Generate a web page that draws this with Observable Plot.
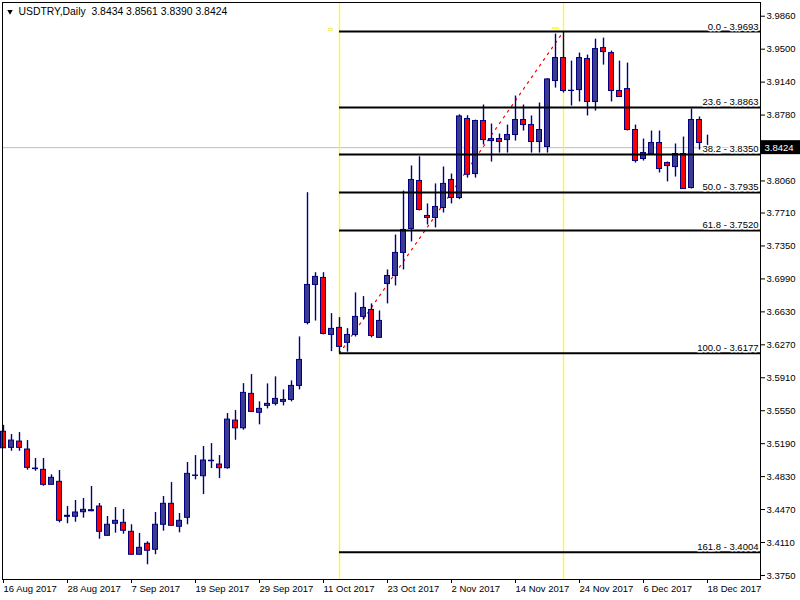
<!DOCTYPE html>
<html>
<head>
<meta charset="utf-8">
<script src="https://cdn.jsdelivr.net/npm/d3@7"></script>
<script src="https://cdn.jsdelivr.net/npm/@observablehq/plot@0.6"></script>
<style>
  html, body { margin: 0; padding: 0; background: #fff; }
  #chart svg { display: block; }
</style>
</head>
<body>
<div id="chart"></div>
<script>
// ---- data ----
const symbol = "USDTRY,Daily";
const opens  = [3.5320,3.5144,3.5213,3.5126,3.4918,3.4904,3.4740,3.4773,3.4391,3.4391,
                3.4441,3.4452,3.4503,3.4183,3.4315,3.4325,3.4227,3.3976,3.4096,3.4031,
                3.4304,3.4533,3.4282,3.4380,3.4838,3.4834,3.4998,3.4962,3.4922,3.5442,
                3.5358,3.5734,3.5527,3.5603,3.5625,3.5647,3.5668,3.5821,3.6509,3.6924,
                3.7001,3.6378,3.6455,3.6291,3.6378,3.6575,3.6651,3.6346,3.6935,3.7022,
                3.7274,3.7536,3.8060,3.7678,3.7656,3.7765,3.8071,3.7874,3.8737,3.8136,
                3.8715,3.8496,3.8518,3.8507,3.8562,3.8726,3.8671,3.8486,3.8431,3.9152,
                3.9403,3.9043,3.9053,3.9392,3.8923,3.9512,3.9457,3.9043,3.9064,3.8617,
                3.8300,3.8354,3.8475,3.8256,3.8212,3.8354,3.7983,3.8726,3.8434];
const highs  = [3.5390,3.5290,3.5311,3.5224,3.5028,3.5028,3.4850,3.4897,3.4503,3.4569,
                3.4591,3.4722,3.4536,3.4394,3.4492,3.4471,3.4304,3.4209,3.4118,3.4438,
                3.4613,3.4765,3.4427,3.4984,3.5060,3.5159,3.5191,3.5060,3.5519,3.5552,
                3.5846,3.5945,3.5647,3.5843,3.5920,3.5778,3.5876,3.6356,3.7932,3.7058,
                3.7058,3.6611,3.6567,3.6447,3.6837,3.6797,3.6717,3.6640,3.7088,3.7470,
                3.7950,3.8224,3.8325,3.7809,3.8028,3.8213,3.8136,3.8783,3.8773,3.8725,
                3.8890,3.8682,3.8573,3.8671,3.8988,3.8890,3.8770,3.8912,3.9180,3.9665,
                3.9693,3.9370,3.9458,3.9436,3.9610,3.9621,3.9479,3.9370,3.9348,3.8671,
                3.8518,3.8606,3.8606,3.8267,3.8464,3.8540,3.8846,3.8759,3.8561];
const lows   = [3.5140,3.5107,3.5107,3.4900,3.4889,3.4725,3.4740,3.4325,3.4315,3.4332,
                3.4376,3.4446,3.4146,3.4183,3.4212,3.4201,3.3976,3.3976,3.3867,3.3976,
                3.4234,3.4293,3.4216,3.4304,3.4795,3.4634,3.4918,3.4809,3.4911,3.5227,
                3.5337,3.5537,3.5396,3.5570,3.5603,3.5603,3.5647,3.5778,3.6488,3.6530,
                3.6378,3.6196,3.6177,3.6190,3.6356,3.6542,3.6346,3.6346,3.6717,3.6913,
                3.7088,3.7394,3.7732,3.7579,3.7547,3.7710,3.7809,3.7856,3.8092,3.8092,
                3.8453,3.8267,3.8365,3.8365,3.8496,3.8606,3.8365,3.8365,3.8365,3.9075,
                3.9021,3.8879,3.8923,3.8770,3.8824,3.9326,3.8923,3.8977,3.8606,3.8256,
                3.8278,3.8343,3.8147,3.8050,3.8103,3.7972,3.7972,3.8398,3.8390];
const closes = [3.5140,3.5224,3.5144,3.4926,3.4912,3.4740,3.4817,3.4347,3.4402,3.4438,
                3.4467,3.4463,3.4227,3.4304,3.4347,3.4238,3.3976,3.4052,3.4020,3.4304,
                3.4533,3.4293,3.4347,3.4860,3.4842,3.5006,3.5004,3.4922,3.5453,3.5358,
                3.5745,3.5537,3.5570,3.5625,3.5679,3.5668,3.5821,3.6105,3.6924,3.7012,
                3.6389,3.6444,3.6247,3.6378,3.6575,3.6673,3.6367,3.6531,3.7022,3.7274,
                3.7525,3.8071,3.7743,3.7656,3.7776,3.8028,3.7874,3.8765,3.8128,3.8715,
                3.8507,3.8518,3.8486,3.8562,3.8726,3.8671,3.8486,3.8617,3.9169,3.9403,
                3.9043,3.9046,3.9403,3.8923,3.9501,3.9468,3.9043,3.8977,3.8617,3.8278,
                3.8365,3.8475,3.8191,3.8223,3.8354,3.7972,3.8726,3.8475,3.8424];

const dateTickIndex = [0, 8, 16, 24, 32, 40, 48, 56, 64, 72, 80, 88];
const dateLabels = ["16 Aug 2017","28 Aug 2017","7 Sep 2017","19 Sep 2017","29 Sep 2017",
                    "11 Oct 2017","23 Oct 2017","2 Nov 2017","14 Nov 2017","24 Nov 2017",
                    "6 Dec 2017","18 Dec 2017"];
const priceTicks = [3.9860,3.9500,3.9140,3.8780,3.8060,3.7710,3.7350,3.6990,3.6630,
                    3.6270,3.5910,3.5550,3.5190,3.4830,3.4470,3.4110,3.3750];

const fibLevels = ["0.0","23.6","38.2","50.0","61.8","100.0","161.8"];
const fibValues = [3.9693,3.8863,3.8350,3.7935,3.7520,3.6177,3.4004];
const fibLowIndex = 42;   // 100.0 anchor (low)
const fibHighIndex = 70;  // 0.0 anchor (high)

// ---- build tables ----
const candles = opens.map((o, i) => ({
  i, o, h: highs[i], l: lows[i], c: closes[i],
  up: closes[i] >= opens[i]
}));
const last = candles[candles.length - 1];
const fibs = fibLevels.map((lv, k) => ({level: lv, value: fibValues[k],
  label: `${lv} - ${fibValues[k].toFixed(4)}`}));
const title = `${symbol}  ${last.o.toFixed(4)} ${last.h.toFixed(4)} ${last.l.toFixed(4)} ${last.c.toFixed(4)}`;

const xDomain = [-0.125, 94.625];
const yDomain = [3.3706, 4.0010];
const pxPerBar = 8;
const pxPerUnit = 915.3;
const halfBody = 2.5 / pxPerBar;

const font = "Liberation Sans, Arial, sans-serif";
const navy = "#000080";

const chart = Plot.plot({
  width: 800,
  height: 600,
  marginLeft: 2,
  marginRight: 40,
  marginTop: 2,
  marginBottom: 21,
  style: {fontFamily: font, fontSize: "9.5px", background: "#fff", color: "#000"},
  x: {type: "linear", domain: xDomain, axis: null, label: null},
  y: {type: "linear", domain: yDomain, axis: null, label: null},
  marks: [
    // current price line
    Plot.ruleY([last.c], {stroke: "#c0c0c0", strokeWidth: 1}),
    // fib anchor vertical lines
    Plot.ruleX([fibLowIndex, fibHighIndex], {stroke: "#ffff00", strokeWidth: 1.3}),
    // fib trend line (dotted red)
    Plot.line([[fibLowIndex, fibValues[5]], [fibHighIndex, fibValues[0]]], {
      x: d => d[0], y: d => d[1], stroke: "#ff0000", strokeWidth: 1.2, strokeDasharray: "2,5"
    }),
    // small yellow markers
    Plot.text(["0"], {x: [fibLowIndex - 1.15], y: [fibValues[0] + 2 / pxPerUnit],
      rotate: 90, fill: "#e8e800", fontSize: 7}),
    Plot.ruleY([fibValues[0] + 3.5 / pxPerUnit], {x1: fibHighIndex - 1.4, x2: fibHighIndex - 0.5,
      stroke: "#ffff00", strokeWidth: 1.5}),
    // candles: wicks
    Plot.ruleX(candles, {x: "i", y1: "l", y2: "h", stroke: navy, strokeWidth: 1.4}),
    // candles: bodies
    Plot.rect(candles, {
      x1: d => d.i - halfBody, x2: d => d.i + halfBody,
      y1: d => Math.min(d.o, d.c), y2: d => Math.max(d.o, d.c),
      fill: d => d.up ? "#3c3c8e" : "#ff0000", stroke: navy, strokeWidth: 1
    }),
    // fib levels
    Plot.ruleY(fibs, {y: "value", x1: fibLowIndex, x2: xDomain[1], stroke: "#000", strokeWidth: 2}),
    Plot.text(fibs, {
      x: xDomain[1], y: "value", text: "label", textAnchor: "end", lineAnchor: "bottom",
      dx: -2, dy: -2, fill: "#000", stroke: "#fff", strokeWidth: 3
    }),
    // axes
    Plot.axisX(dateTickIndex, {
      anchor: "bottom", tickSize: 4, tickPadding: 2, textAnchor: "start", dx: 0, label: null,
      tickFormat: (d) => dateLabels[dateTickIndex.indexOf(d)], fill: "#000", stroke: "#000"
    }),
    Plot.axisY(priceTicks, {
      anchor: "right", tickSize: 4, tickPadding: 2, label: null,
      tickFormat: d => d.toFixed(4), fill: "#000", stroke: "#000"
    }),
    Plot.frame({stroke: "#000", strokeWidth: 1}),
    // price box
    Plot.rect([last], {
      x1: xDomain[1], x2: xDomain[1] + 40 / pxPerBar,
      y1: d => d.c - 7 / pxPerUnit, y2: d => d.c + 7 / pxPerUnit, fill: "#000"
    }),
    Plot.text([last], {x: xDomain[1], y: "c", text: d => d.c.toFixed(4), textAnchor: "start",
      dx: 4, fill: "#fff"}),
    // title
    Plot.dot([0], {frameAnchor: "top-left", dx: 7.5, dy: 9, symbol: "triangle2", rotate: 180,
      r: 2.6, fill: "#000", stroke: "none"}),
    Plot.text([title], {frameAnchor: "top-left", dx: 16, dy: 5.2, textAnchor: "start",
      lineAnchor: "top", fill: "#000", fontSize: 10.4, text: d => d})
  ]
});
document.getElementById("chart").appendChild(chart);
</script>
</body>
</html>
